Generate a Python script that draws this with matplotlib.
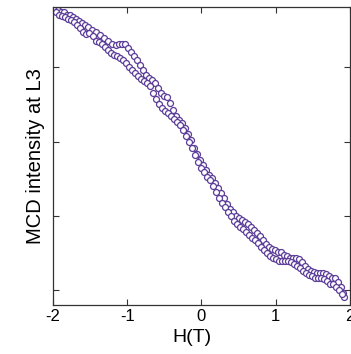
import matplotlib
matplotlib.use("Agg")
import matplotlib.pyplot as plt

# field sweep 1 (H in T, MCD intensity in arbitrary units)
h_sweep1 = [-1.97, -1.93, -1.89, -1.85, -1.81, -1.77, -1.73, -1.69, -1.65, -1.61,
            -1.57, -1.53, -1.47, -1.42, -1.37, -1.31, -1.26, -1.21, -1.15, -1.11,
            -1.07, -1.03, -0.99, -0.95, -0.91, -0.87, -0.83, -0.79, -0.75, -0.71,
            -0.67, -0.63, -0.59, -0.55, -0.51, -0.46, -0.42, -0.38, -0.34, -0.30,
            -0.26, -0.22, -0.18, -0.14, -0.10, -0.06, -0.02, 0.02, 0.06, 0.10,
            0.14, 0.18, 0.22, 0.26, 0.30, 0.34, 0.38, 0.42, 0.46, 0.51,
            0.55, 0.59, 0.63, 0.67, 0.71, 0.75, 0.79, 0.83, 0.87, 0.91,
            0.95, 0.99, 1.03, 1.07, 1.11, 1.15, 1.19, 1.23, 1.27, 1.31,
            1.35, 1.39, 1.43, 1.47, 1.52, 1.56, 1.60, 1.64, 1.68, 1.72,
            1.76, 1.80, 1.84, 1.88, 1.91, 1.92]
mcd_sweep1 = [3.80, 3.77, 3.75, 3.74, 3.71, 3.70, 3.67, 3.65, 3.62, 3.59,
              3.57, 3.54, 3.50, 3.47, 3.43, 3.39, 3.35, 3.31, 3.30, 3.31,
              3.32, 3.31, 3.26, 3.20, 3.15, 3.10, 3.03, 2.96, 2.89, 2.85,
              2.83, 2.79, 2.72, 2.66, 2.62, 2.60, 2.52, 2.42, 2.34, 2.29,
              2.25, 2.18, 2.10, 2.02, 1.92, 1.84, 1.75, 1.68, 1.62, 1.55,
              1.51, 1.44, 1.37, 1.31, 1.24, 1.16, 1.09, 1.05, 1.00, 0.97,
              0.94, 0.92, 0.89, 0.85, 0.81, 0.77, 0.73, 0.67, 0.62, 0.58,
              0.55, 0.54, 0.52, 0.51, 0.48, 0.46, 0.44, 0.44, 0.43, 0.42,
              0.38, 0.32, 0.28, 0.26, 0.24, 0.23, 0.23, 0.23, 0.22, 0.19,
              0.17, 0.16, 0.11, 0.04, -0.03, -0.09]

# field sweep 2
h_sweep2 = [-1.96, -1.92, -1.88, -1.84, -1.80, -1.76, -1.72, -1.68, -1.64, -1.60,
            -1.56, -1.52, -1.46, -1.42, -1.38, -1.34, -1.30, -1.26, -1.22, -1.18,
            -1.14, -1.10, -1.06, -1.02, -0.98, -0.94, -0.90, -0.86, -0.81, -0.77,
            -0.73, -0.69, -0.65, -0.61, -0.57, -0.53, -0.49, -0.45, -0.41, -0.37,
            -0.33, -0.29, -0.25, -0.21, -0.17, -0.13, -0.09, -0.05, -0.01, 0.03,
            0.07, 0.11, 0.15, 0.20, 0.24, 0.28, 0.32, 0.36, 0.40, 0.44,
            0.48, 0.52, 0.56, 0.60, 0.64, 0.68, 0.72, 0.76, 0.80, 0.84,
            0.88, 0.92, 0.96, 1.00, 1.04, 1.08, 1.12, 1.16, 1.21, 1.25,
            1.29, 1.33, 1.37, 1.41, 1.45, 1.49, 1.53, 1.57, 1.61, 1.65,
            1.69, 1.73, 1.77, 1.81, 1.85, 1.89]
mcd_sweep2 = [3.74, 3.71, 3.69, 3.67, 3.65, 3.63, 3.61, 3.57, 3.53, 3.47,
              3.45, 3.46, 3.42, 3.36, 3.34, 3.31, 3.27, 3.23, 3.19, 3.16,
              3.15, 3.12, 3.10, 3.06, 3.01, 2.96, 2.92, 2.88, 2.84, 2.81,
              2.79, 2.75, 2.66, 2.58, 2.50, 2.45, 2.41, 2.38, 2.34, 2.31,
              2.27, 2.22, 2.15, 2.07, 1.99, 1.91, 1.82, 1.72, 1.64, 1.59,
              1.53, 1.48, 1.40, 1.32, 1.24, 1.17, 1.12, 1.05, 1.00, 0.93,
              0.89, 0.85, 0.82, 0.78, 0.74, 0.70, 0.67, 0.63, 0.58, 0.54,
              0.50, 0.46, 0.43, 0.42, 0.40, 0.40, 0.40, 0.39, 0.38, 0.35,
              0.32, 0.30, 0.26, 0.23, 0.20, 0.19, 0.17, 0.17, 0.16, 0.15,
              0.12, 0.09, 0.08, 0.05, 0.00, -0.05]

x_ticks = [-2, -1, 0, 1, 2]
y_ticks = [0, 1, 2, 3]

plt.rcParams["font.family"] = ["Liberation Sans", "DejaVu Sans"]

fig = plt.figure(figsize=(3.51, 3.54), dpi=100)
ax = fig.add_axes([0.151, 0.138, 0.846, 0.842])

purple = "#5b3c98"
for h, m in [(h_sweep1, mcd_sweep1), (h_sweep2, mcd_sweep2)]:
    ax.plot(h, m, linestyle="none", marker="o", markersize=4.3,
            markerfacecolor="white", markeredgecolor=purple, markeredgewidth=0.9)

ax.set_xlim(-2, 2)
ax.set_ylim(-0.2, 3.81)
ax.set_xticks(x_ticks)
ax.set_xticklabels([str(t) for t in x_ticks])
ax.set_yticks(y_ticks)
ax.set_yticklabels([])
ax.tick_params(direction="in", top=True, right=True, length=4, width=0.8,
               labelsize=12, pad=3, color="#333333")
for s in ax.spines.values():
    s.set_color("#333333")
    s.set_linewidth(0.9)

ax.set_xlabel("H(T)", fontsize=14)
ax.xaxis.set_label_coords(0.468, -0.08)
ax.set_ylabel("MCD intensity at L3", fontsize=14.5, labelpad=3)

fig.savefig("out.png", dpi=100)
